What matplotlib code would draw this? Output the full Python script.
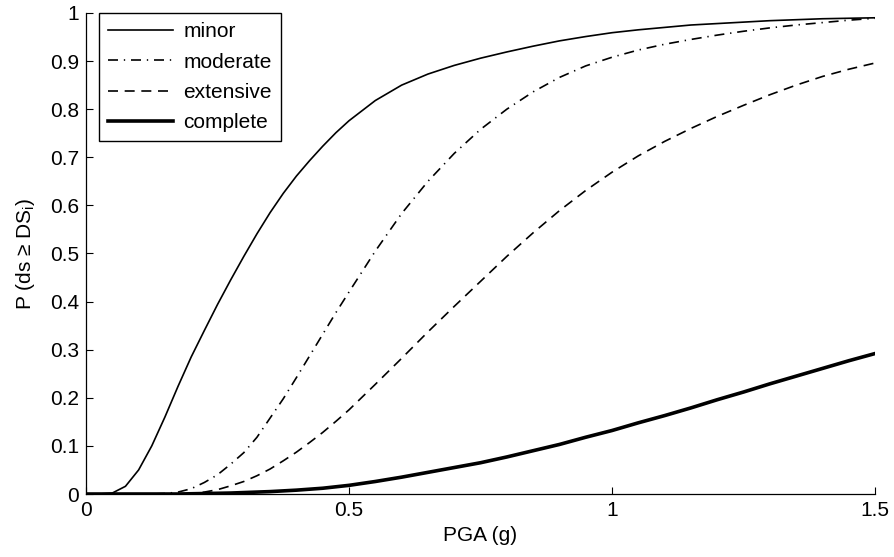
import numpy as np
import matplotlib.pyplot as plt
from matplotlib.ticker import FormatStrFormatter

plt.rcParams['font.family'] = ['Liberation Sans', 'DejaVu Sans']
plt.rcParams['mathtext.default'] = 'regular'

# PGA grid (g) and exceedance probabilities per damage state
pga = [0.0, 0.025, 0.05, 0.075, 0.1, 0.125, 0.15, 0.175, 0.2, 0.225,
       0.25, 0.275, 0.3, 0.325, 0.35, 0.375, 0.4, 0.425, 0.45, 0.475,
       0.5, 0.55, 0.6, 0.65, 0.7, 0.75, 0.8, 0.85, 0.9, 0.95,
       1.0, 1.05, 1.1, 1.15, 1.2, 1.25, 1.3, 1.35, 1.4, 1.45, 1.5]

p_minor = [0.0, 0.0, 0.002, 0.016, 0.05, 0.1, 0.16, 0.224, 0.285, 0.34,
           0.394, 0.445, 0.494, 0.541, 0.585, 0.625, 0.661, 0.693, 0.723, 0.751,
           0.776, 0.818, 0.85, 0.873, 0.891, 0.906, 0.919, 0.931, 0.942, 0.951,
           0.959, 0.965, 0.97, 0.975, 0.978, 0.981, 0.984, 0.986, 0.988, 0.989, 0.99]

p_moderate = [0.0, 0.0, 0.0, 0.0, 0.0, 0.0, 0.001, 0.004, 0.011, 0.024,
              0.04, 0.062, 0.086, 0.118, 0.158, 0.198, 0.242, 0.287, 0.332, 0.377,
              0.42, 0.505, 0.583, 0.65, 0.708, 0.758, 0.8, 0.836, 0.866, 0.89,
              0.908, 0.923, 0.935, 0.945, 0.954, 0.962, 0.969, 0.975, 0.98, 0.985, 0.989]

p_extensive = [0.0, 0.0, 0.0, 0.0, 0.0, 0.0, 0.0, 0.0, 0.001, 0.004,
               0.009, 0.017, 0.026, 0.038, 0.052, 0.069, 0.087, 0.107, 0.128, 0.151,
               0.175, 0.228, 0.282, 0.337, 0.39, 0.442, 0.494, 0.543, 0.589, 0.631,
               0.669, 0.703, 0.733, 0.76, 0.785, 0.808, 0.83, 0.85, 0.868, 0.883, 0.896]

p_complete = [0.0, 0.0, 0.0, 0.0, 0.0, 0.0, 0.0, 0.0, 0.0005, 0.001,
              0.0015, 0.002, 0.003, 0.004, 0.005, 0.0065, 0.008, 0.01, 0.012, 0.015,
              0.018, 0.026, 0.035, 0.045, 0.055, 0.065, 0.077, 0.09, 0.103, 0.118,
              0.132, 0.148, 0.163, 0.179, 0.196, 0.212, 0.229, 0.245, 0.261, 0.277, 0.292]

fig = plt.figure(figsize=(8.95, 5.57), dpi=100)
ax = fig.add_axes([0.0961, 0.1131, 0.8816, 0.8636])

ax.plot(pga, p_minor, color='k', lw=1.2, label='minor')
ax.plot(pga, p_moderate, color='k', lw=1.2, ls=(0, (6, 3.5, 0.8, 3.5)), label='moderate')
ax.plot(pga, p_extensive, color='k', lw=1.2, ls=(0, (6, 4)), label='extensive')
ax.plot(pga, p_complete, color='k', lw=2.6, label='complete')

ax.set_xlim(0, 1.5)
ax.set_ylim(0, 1)
ax.set_xticks([0, 0.5, 1, 1.5])
ax.set_yticks(np.arange(0, 1.01, 0.1))
ax.xaxis.set_major_formatter(FormatStrFormatter('%g'))
ax.yaxis.set_major_formatter(FormatStrFormatter('%g'))
ax.tick_params(direction='in', length=5, width=0.8, labelsize=15, pad=5)

for side in ['top', 'right']:
    ax.spines[side].set_visible(False)
for side in ['left', 'bottom']:
    ax.spines[side].set_linewidth(0.9)

ax.set_xlabel('PGA (g)', fontsize=15, labelpad=4)
ax.set_ylabel('P (ds ≥ DS$_{i}$)', fontsize=15)
ax.yaxis.set_label_coords(-0.062, 0.5)

leg = ax.legend(loc='upper left', bbox_to_anchor=(0.0165, 1.0), borderaxespad=0,
                fontsize=15, handlelength=3.1, labelspacing=0.54, handletextpad=0.5,
                borderpad=0.45, fancybox=False, framealpha=1, edgecolor='k')
leg.get_frame().set_linewidth(1.0)

fig.savefig('out.png', dpi=100)
